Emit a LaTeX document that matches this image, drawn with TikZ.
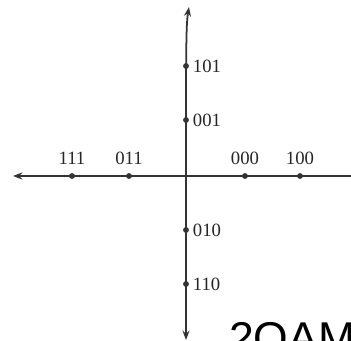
\documentclass[tikz,border=0pt]{standalone}
\usepackage{fontspec}
\setmainfont{Liberation Serif}
\newfontfamily\bigsans{Liberation Sans}
\usetikzlibrary{positioning, arrows.meta}
\tikzset{
  axis/.style={line width=1.5pt, draw=black!80, -{Stealth[length=8pt, width=6pt]}},
  dot/.style={circle, fill=black!80, inner sep=0pt, minimum size=5pt},
  lbl/.style={font=\fontsize{16}{18}\selectfont, text=black!85, inner sep=1pt}
}

\begin{document}
\begin{tikzpicture}[x=0.03cm, y=-0.03cm]
            \useasboundingbox (0,0) rectangle (351,341);
            \clip (0,0) rectangle (351,341);

            % axes
            \coordinate (origin) at (186,176);
            \coordinate (top) at (189,7);
            \coordinate (bottom) at (186,340);
            \coordinate (left) at (13,176);
            \coordinate (right) at (352,176);
            \draw [axis] (origin) .. controls (186,50) and (186,25) .. (top);
            \draw [axis] (origin) -- (bottom);
            \draw [axis] (right) -- (left);

            % points on the horizontal axis
            \node (p111) [dot] at (72,176) {};
            \node (p011) [dot] at (129,176) {};
            \node (p000) [dot] at (245,176) {};
            \node (p100) [dot] at (300,176) {};
            \node [lbl, above=6pt of p111] {111};
            \node [lbl, above=6pt of p011] {011};
            \node [lbl, above=6pt of p000] {000};
            \node [lbl, above=6pt of p100] {100};

            % points on the vertical axis
            \node (p101) [dot] at (186,66) {};
            \node (p001) [dot] at (186,120) {};
            \node (p010) [dot] at (186,230) {};
            \node (p110) [dot] at (186,284) {};
            \node [lbl, right=2pt of p101] {101};
            \node [lbl, right=2pt of p001] {001};
            \node [lbl, right=2pt of p010] {010};
            \node [lbl, right=2pt of p110] {110};

            \node (title) [anchor=base west, inner sep=0pt, font=\bigsans\fontsize{38}{40}\selectfont] at (229,354) {2QAM};
        \end{tikzpicture}
\end{document}
